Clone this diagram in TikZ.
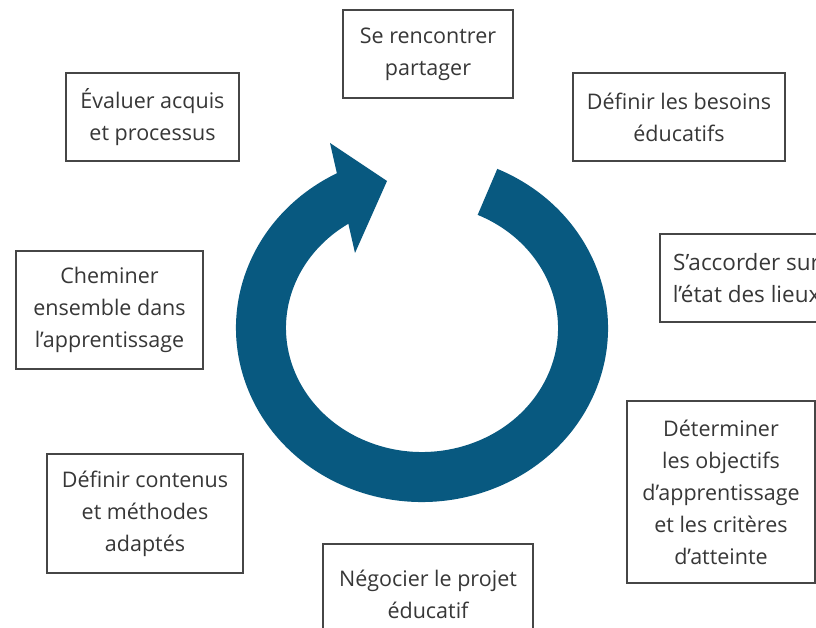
\documentclass[tikz,border=0pt]{standalone}
\usepackage{fontspec}
\setmainfont{Open Sans}
\definecolor{ringblue}{RGB}{8,89,128}
\definecolor{txtgray}{RGB}{55,55,55}
\definecolor{boxgray}{RGB}{70,70,70}
\tikzset{
  stepbox/.style={draw=boxgray, line width=1.5pt, text=txtgray, align=center,
    font=\fontsize{21.5}{32}\selectfont, inner sep=4pt},
  ring/.style={draw=ringblue, line width=50pt, line cap=butt}
}
\begin{document}
\begin{tikzpicture}[x=1pt,y=-1pt]
\useasboundingbox (0,0) rectangle (816,628);
\clip (0,0) rectangle (816,628);
\fill[white] (0,0) rectangle (816,628);
% ring arrow
\draw[ring] ([shift={(-66:161 and 149)}]422,328) arc[start angle=-66, end angle=244, x radius=161, y radius=149];
\fill[ringblue] (330,143) -- (387,181) -- (355,253) -- cycle;
% boxes
\node[stepbox, minimum width=170pt, minimum height=88pt] (meet) at (428,54) {Se rencontrer\\partager};
\node[stepbox, minimum width=212pt, minimum height=88pt] (needs) at (679,117) {Définir les besoins\\éducatifs};
\node[stepbox, anchor=west, inner xsep=13pt, minimum height=88pt, font=\fontsize{22.5}{32}\selectfont] (state) at (659,278) {S’accorder sur\\l’état des lieux};
\node[stepbox, minimum width=188pt, minimum height=182pt] (goals) at (721,492) {Déterminer\\les objectifs\\d’apprentissage\\et les critères\\d’atteinte};
\node[stepbox, minimum width=210pt, minimum height=100pt] (nego) at (428,594) {Négocier le projet\\éducatif};
\node[stepbox, minimum width=196pt, minimum height=119pt] (content) at (145,513.5) {Définir contenus\\et méthodes\\adaptés};
\node[stepbox, minimum width=187pt, minimum height=118pt] (walk) at (109.5,310) {Cheminer\\ensemble dans\\l’apprentissage};
\node[stepbox, minimum width=173pt, minimum height=88pt] (eval) at (152.5,117) {Évaluer acquis\\et processus};
\end{tikzpicture}
\end{document}
